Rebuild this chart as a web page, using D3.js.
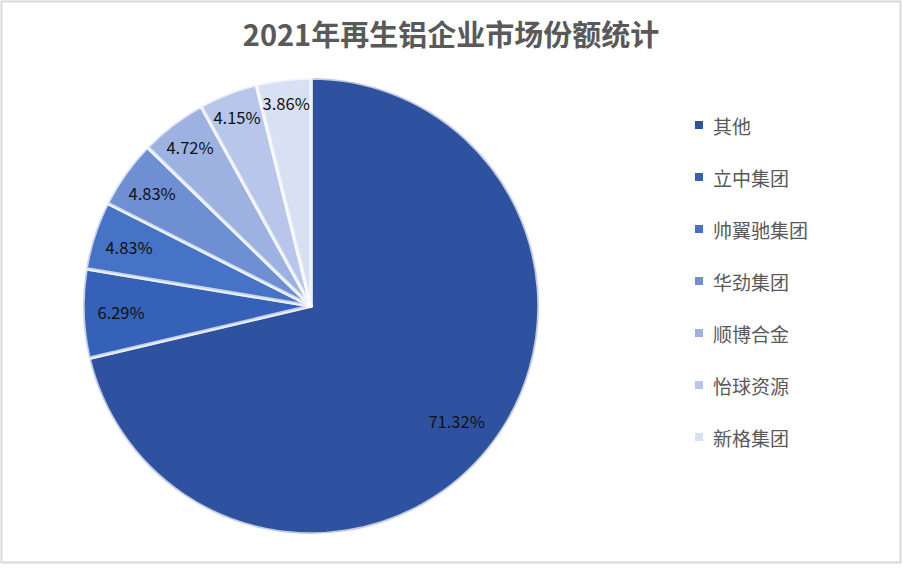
<!DOCTYPE html>
<html>
<head>
<meta charset="utf-8">
<script src="https://cdn.jsdelivr.net/npm/d3@7"></script>
<style>
  html, body { margin: 0; padding: 0; background: #fff; }
  svg { display: block; }
</style>
</head>
<body>
<div id="chart"></div>
<script>
// data
const companies = ["其他", "立中集团", "帅翼驰集团", "华劲集团", "顺博合金", "怡球资源", "新格集团"];
const shares = [71.32, 6.29, 4.83, 4.83, 4.72, 4.15, 3.86];
const sliceColors = ["#2f52a0", "#3561b9", "#4673c6", "#6e90d3", "#9db2e1", "#b7c6ea", "#d8e0f4"];

const width = 903;
const height = 578;
const fontFamily = "'Noto Sans CJK SC', 'Microsoft YaHei', sans-serif";

const svg = d3.select("#chart")
  .append("svg")
  .attr("width", width)
  .attr("height", height);

// outer frame
svg.append("rect")
  .attr("x", 1.5)
  .attr("y", 1.5)
  .attr("width", 899)
  .attr("height", 561)
  .attr("fill", "#fff")
  .attr("stroke", "#d9d9d9")
  .attr("stroke-width", 2);

// title
svg.append("text")
  .attr("x", 451)
  .attr("y", 46)
  .attr("text-anchor", "middle")
  .attr("font-family", fontFamily)
  .attr("font-size", "29px")
  .attr("font-weight", "bold")
  .attr("fill", "#595959")
  .text("2021年再生铝企业市场份额统计");

const data = companies.map((name, i) => ({ name: name, value: shares[i], color: sliceColors[i] }));

const cx = 311;
const cy = 306;
const radius = 228;

const pie = d3.pie()
  .value(d => d.value)
  .sort(null);

const arc = d3.arc()
  .innerRadius(0)
  .outerRadius(radius);

const arcs = pie(data);

const pieGroup = svg.append("g")
  .attr("transform", `translate(${cx},${cy})`);

pieGroup.selectAll("path")
  .data(arcs)
  .enter()
  .append("path")
  .attr("d", arc)
  .attr("fill", d => d.data.color)
  .attr("stroke", "rgba(255,255,255,0.7)")
  .attr("stroke-width", 3.5)
  .attr("stroke-linejoin", "round");

// labels near the rim; labels pointing up/down can sit a bit further out
function labelPos(d) {
  const mid = (d.startAngle + d.endAngle) / 2;
  const ux = Math.sin(mid);
  const uy = -Math.cos(mid);
  const dist = (d.index === 0 ? 180 : 190) + 15 * uy * uy;
  return [dist * ux, dist * uy];
}

pieGroup.selectAll("text.label")
  .data(arcs)
  .enter()
  .append("text")
  .attr("class", "label")
  .attr("x", d => labelPos(d)[0])
  .attr("y", d => labelPos(d)[1])
  .attr("text-anchor", "middle")
  .attr("dominant-baseline", "central")
  .attr("font-family", fontFamily)
  .attr("font-size", "16.5px")
  .attr("fill", "#111")
  .text(d => d.data.value.toFixed(2) + "%");

// legend
const legendY = d3.scalePoint()
  .domain(companies)
  .range([125, 437]);

const legend = svg.append("g");

legend.selectAll("rect")
  .data(data)
  .enter()
  .append("rect")
  .attr("x", 695)
  .attr("y", d => legendY(d.name) - 4)
  .attr("width", 8)
  .attr("height", 8)
  .attr("fill", d => d.color);

legend.selectAll("text")
  .data(data)
  .enter()
  .append("text")
  .attr("x", 713)
  .attr("y", d => legendY(d.name))
  .attr("dominant-baseline", "central")
  .attr("font-family", fontFamily)
  .attr("font-size", "19px")
  .attr("fill", "#595959")
  .text(d => d.name);
</script>
</body>
</html>
